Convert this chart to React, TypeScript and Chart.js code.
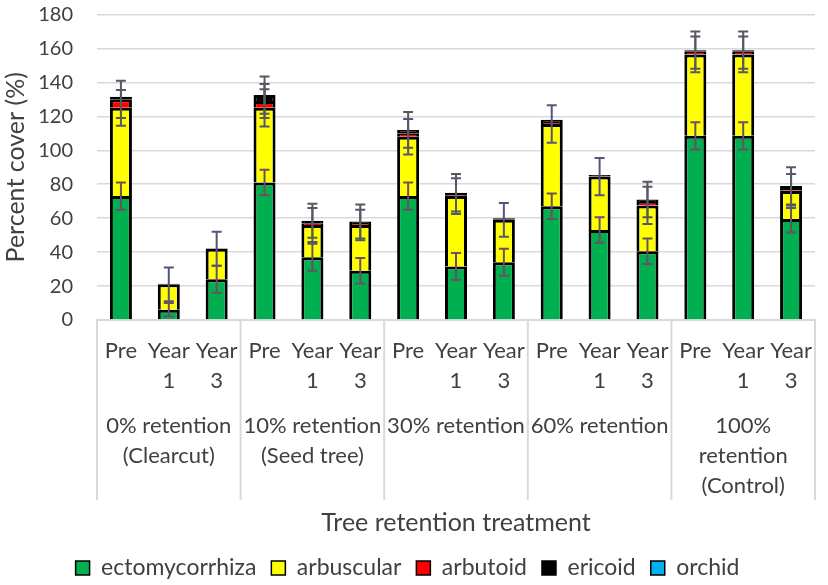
import React, { useEffect, useRef } from 'react';
import { Chart, registerables } from 'chart.js';

Chart.register(...registerables);

// ---------- data ----------
const treatments: string[][] = [
  ['0% retention', '(Clearcut)'],
  ['10% retention', '(Seed tree)'],
  ['30% retention'],
  ['60% retention'],
  ['100%', 'retention', '(Control)'],
];
const periods: string[][] = [['Pre'], ['Year', '1'], ['Year', '3']];
const categoryLabels: string[][] = treatments.flatMap(() => periods);

const seriesNames = ['ectomycorrhiza', 'arbuscular', 'arbutoid', 'ericoid', 'orchid'];
const seriesColors = ['#00b050', '#ffff00', '#ff0000', '#000000', '#00b0f0'];

const ecto = [73, 6, 24, 81, 37, 29, 73, 31.5, 34, 67, 53, 40.5, 108.5, 108.5, 59.5];
const arbuscular = [52, 15, 18, 44, 19, 27, 35, 41.5, 25, 48.5, 31.5, 27, 48, 48, 16.5];
const arbutoid = [5, 0, 0, 4, 1, 0.5, 2, 0.5, 0, 0.5, 0, 2, 1.5, 1.5, 0.5];
const ericoid = [1.5, 0.3, 0.3, 3.5, 1.5, 1.5, 2, 1.5, 1, 2, 1, 1.5, 1, 1, 2.5];
const orchid = [0, 0, 0, 0, 0, 0, 0, 0, 0, 0, 0, 0, 0, 0, 0];

const ectoErr = [8, 4, 8, 7.5, 8, 7.5, 8, 8, 8, 7.5, 7.5, 7.5, 8, 8, 8];
const arbuscularErr = [10.5, 10, 10, 11, 10, 9, 10.5, 10.5, 10, 11, 11, 11, 10.5, 10.5, 10];
const arbutoidErr = [11, 0, 0, 10, 0, 0, 0, 0, 0, 0, 0, 0, 0, 0, 0];
const ericoidErr = [0, 0, 0, 11, 10, 10, 10.5, 11, 0, 0, 0, 10.5, 11, 11, 11];
const orchidErr = [0, 0, 0, 0, 0, 0, 0, 0, 0, 0, 0, 0, 0, 0, 0];

const yTicksMin = 0;
const yTicksMax = 180;
const yTickStep = 20;

const seriesValues = [ecto, arbuscular, arbutoid, ericoid, orchid];
const seriesErrors = [ectoErr, arbuscularErr, arbutoidErr, ericoidErr, orchidErr];
const errColors = ['#6a5060', '#55557a', '#595959', '#595959', '#595959'];

const FONT = 'Lato, "Open Sans", sans-serif';
const TEXT = '#404040';

const errorBarPlugin = {
  id: 'errorBars',
  afterDatasetsDraw(chart: any) {
    const xs = chart.scales.x;
    const ys = chart.scales.y;
    const ctx = chart.ctx;
    ctx.save();
    ctx.lineWidth = 2;
    for (let i = 0; i < categoryLabels.length; i++) {
      let cum = 0;
      for (let s = 0; s < seriesValues.length; s++) {
        cum += seriesValues[s][i];
        const e = seriesErrors[s][i];
        if (!e) continue;
        const px = xs.getPixelForValue(i);
        const top = ys.getPixelForValue(cum + e);
        const bot = ys.getPixelForValue(Math.max(0, cum - e));
        ctx.strokeStyle = errColors[s];
        ctx.beginPath();
        ctx.moveTo(px, top);
        ctx.lineTo(px, bot);
        ctx.moveTo(px - 5, top);
        ctx.lineTo(px + 5, top);
        ctx.moveTo(px - 5, bot);
        ctx.lineTo(px + 5, bot);
        ctx.stroke();
      }
    }
    ctx.restore();
  },
};

const dividerPlugin = {
  id: 'groupDividers',
  afterDraw(chart: any) {
    const xs = chart.scales.x;
    const ys = chart.scales.y;
    const x2 = chart.scales.x2;
    const ctx = chart.ctx;
    ctx.save();
    ctx.strokeStyle = '#d9d9d9';
    ctx.lineWidth = 2;
    const yEnd = x2.top + 100;
    for (let g = 0; g <= treatments.length; g++) {
      const px = xs.getPixelForValue(g * periods.length - 0.5);
      ctx.beginPath();
      ctx.moveTo(px, ys.bottom);
      ctx.lineTo(px, yEnd);
      ctx.stroke();
    }
    ctx.restore();
  },
};

export default function App() {
  const canvasRef = useRef<HTMLCanvasElement | null>(null);

  useEffect(() => {
    document.body.style.margin = '0';
    const canvas = canvasRef.current;
    if (!canvas) return;
    const chart = new Chart(canvas, {
      type: 'bar',
      data: {
        labels: categoryLabels as any,
        datasets: seriesNames.map((name, s) => ({
          label: name,
          data: seriesValues[s],
          backgroundColor: seriesColors[s],
          borderColor: '#000000',
          borderWidth: 3,
          barPercentage: 0.46,
          categoryPercentage: 1,
          stack: 'cover',
          xAxisID: 'x',
          yAxisID: 'y',
        })),
      },
      options: {
        animation: false,
        responsive: true,
        maintainAspectRatio: false,
        layout: { padding: { top: 14.5, right: 13, bottom: 0, left: 0 } },
        plugins: {
          tooltip: { enabled: false },
          legend: {
            position: 'bottom',
            maxHeight: 43.5,
            labels: {
              boxWidth: 14,
              boxHeight: 14,
              padding: 15,
              color: TEXT,
              font: { family: FONT, size: 23 },
              generateLabels: (c: any) =>
                Chart.defaults.plugins.legend.labels
                  .generateLabels(c)
                  .map((l: any) => ({ ...l, lineWidth: 1.5, strokeStyle: '#000000' })),
            },
          },
        },
        scales: {
          x: {
            type: 'category',
            position: 'bottom',
            stacked: true,
            offset: true,
            weight: 0,
            grid: { display: false },
            border: { display: true, color: '#d9d9d9', width: 2 },
            ticks: {
              autoSkip: false,
              maxRotation: 0,
              padding: 8,
              color: TEXT,
              font: { family: FONT, size: 22, lineHeight: 1.364 },
            },
            afterFit: (s: any) => {
              s.height = 80;
            },
          },
          x2: {
            type: 'category',
            position: 'bottom',
            labels: treatments as any,
            offset: true,
            weight: 1,
            grid: { display: false },
            border: { display: false },
            ticks: {
              autoSkip: false,
              maxRotation: 0,
              padding: 3,
              color: TEXT,
              font: { family: FONT, size: 22, lineHeight: 1.364 },
            },
            title: {
              display: true,
              text: 'Tree retention treatment',
              color: TEXT,
              padding: 3.5,
              font: { family: FONT, size: 25, lineHeight: 1.2 },
            },
            afterFit: (s: any) => {
              s.height = 141.5;
            },
          },
          y: {
            stacked: true,
            min: yTicksMin,
            max: yTicksMax,
            grid: { color: '#d9d9d9', lineWidth: 1.5, drawTicks: false },
            border: { display: false },
            ticks: {
              stepSize: yTickStep,
              padding: 24,
              color: TEXT,
              font: { family: FONT, size: 20 },
            },
            title: {
              display: true,
              text: 'Percent cover (%)',
              color: TEXT,
              padding: { top: 1, bottom: 0 },
              font: { family: FONT, size: 25, lineHeight: 1.2 },
            },
            afterFit: (s: any) => {
              s.width = 97;
              s.paddingTop = 0;
              s.paddingBottom = 0;
            },
          },
        },
      } as any,
      plugins: [errorBarPlugin, dividerPlugin],
    });
    return () => chart.destroy();
  }, []);

  return (
    <div style={{ width: 828, height: 585, position: 'relative', background: '#ffffff' }}>
      <canvas ref={canvasRef} />
    </div>
  );
}
